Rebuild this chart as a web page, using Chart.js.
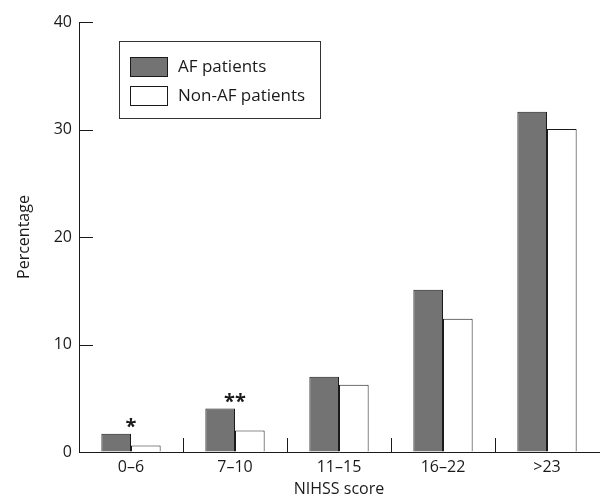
<!DOCTYPE html>
<html>
<head>
<meta charset="utf-8">
<script src="https://cdn.jsdelivr.net/npm/chart.js@4"></script>
<style>
  html, body { margin: 0; padding: 0; background: #fff; }
  #wrap { width: 600px; height: 499px; }
</style>
</head>
<body>
<div id="wrap"><canvas id="nihssChart" width="600" height="499"></canvas></div>
<script>
// NIHSS score groups
const categories = ['0–6', '7–10', '11–15', '16–22', '>23'];
const afPatients = [1.7, 4.05, 7.0, 15.1, 31.65];
const nonAfPatients = [0.6, 2.0, 6.25, 12.4, 30.05];
const significance = ['*', '**', '', '', ''];
const yTicks = [0, 10, 20, 30, 40];

const FONT = '"Open Sans", "DejaVu Sans", sans-serif';
const INK = '#1a1a1a';

// ticks drawn inside the axes, separators between groups, stars and legend box
const extras = {
    id: 'extras',
    afterDraw(chart) {
        const ctx = chart.ctx;
        const x = chart.scales.x, y = chart.scales.y;
        const area = chart.chartArea;
        ctx.save();
        ctx.strokeStyle = INK;
        ctx.lineWidth = 1;
        // y ticks pointing right
        yTicks.forEach(v => {
            const py = Math.round(y.getPixelForValue(v)) + 0.5;
            ctx.beginPath();
            ctx.moveTo(area.left, py);
            ctx.lineTo(area.left + 14, py);
            ctx.stroke();
        });
        // group separators on the x axis
        for (let i = 1; i < categories.length; i++) {
            const px = Math.round((x.getPixelForValue(i - 1) + x.getPixelForValue(i)) / 2) + 0.5;
            ctx.beginPath();
            ctx.moveTo(px, area.bottom);
            ctx.lineTo(px, area.bottom - 14);
            ctx.stroke();
        }
        // significance stars
        ctx.fillStyle = INK;
        ctx.font = 'bold 20px ' + FONT;
        ctx.textAlign = 'center';
        ctx.textBaseline = 'middle';
        significance.forEach((s, i) => {
            if (!s) return;
            const top = y.getPixelForValue(Math.max(afPatients[i], nonAfPatients[i]));
            ctx.fillText(s, x.getPixelForValue(i), top - 6);
        });
        // legend
        const lx = 119.5, ly = 41.5, lw = 201, lh = 77;
        ctx.strokeStyle = '#333';
        ctx.strokeRect(lx, ly, lw, lh);
        const items = chart.data.datasets;
        ctx.textAlign = 'left';
        ctx.font = '17px ' + FONT;
        items.forEach((ds, i) => {
            const sy = 57.5 + i * 29;
            ctx.fillStyle = ds.backgroundColor;
            ctx.fillRect(130.5, sy, 37, 19);
            ctx.strokeStyle = INK;
            ctx.strokeRect(130.5, sy, 37, 19);
            ctx.fillStyle = INK;
            ctx.fillText(ds.label, 178, sy + 10);
        });
        ctx.restore();
    }
};

new Chart(document.getElementById('nihssChart'), {
    type: 'bar',
    data: {
        labels: categories,
        datasets: [{
            label: 'AF patients',
            data: afPatients,
            backgroundColor: '#737373',
            borderColor: INK,
            borderWidth: 1
        }, {
            label: 'Non-AF patients',
            data: nonAfPatients,
            backgroundColor: '#ffffff',
            borderColor: INK,
            borderWidth: 1
        }]
    },
    options: {
        responsive: false,
        animation: false,
        layout: { padding: { top: 22, right: 1, left: 0, bottom: 0 } },
        datasets: { bar: { categoryPercentage: 0.57, barPercentage: 1.0 } },
        plugins: {
            legend: { display: false },
            tooltip: { enabled: false }
        },
        scales: {
            x: {
                grid: { display: true, drawOnChartArea: false, drawTicks: false },
                border: { display: true, color: INK, width: 1 },
                ticks: { color: INK, font: { family: FONT, size: 16 }, padding: 6 },
                title: { display: true, text: 'NIHSS score', color: INK, font: { family: FONT, size: 16 }, padding: { top: 0, bottom: 0 } },
                afterFit(scale) { scale.height = 47; }
            },
            y: {
                min: 0,
                max: 40,
                grid: { display: true, drawOnChartArea: false, drawTicks: false },
                border: { display: true, color: INK, width: 1 },
                ticks: { stepSize: 10, color: INK, font: { family: FONT, size: 16 }, padding: 7 },
                title: { display: true, text: 'Percentage', color: INK, font: { family: FONT, size: 16 }, padding: { top: 15, bottom: 0 } },
                afterFit(scale) { scale.width = 79; }
            }
        }
    },
    plugins: [extras]
});
</script>
</body>
</html>
